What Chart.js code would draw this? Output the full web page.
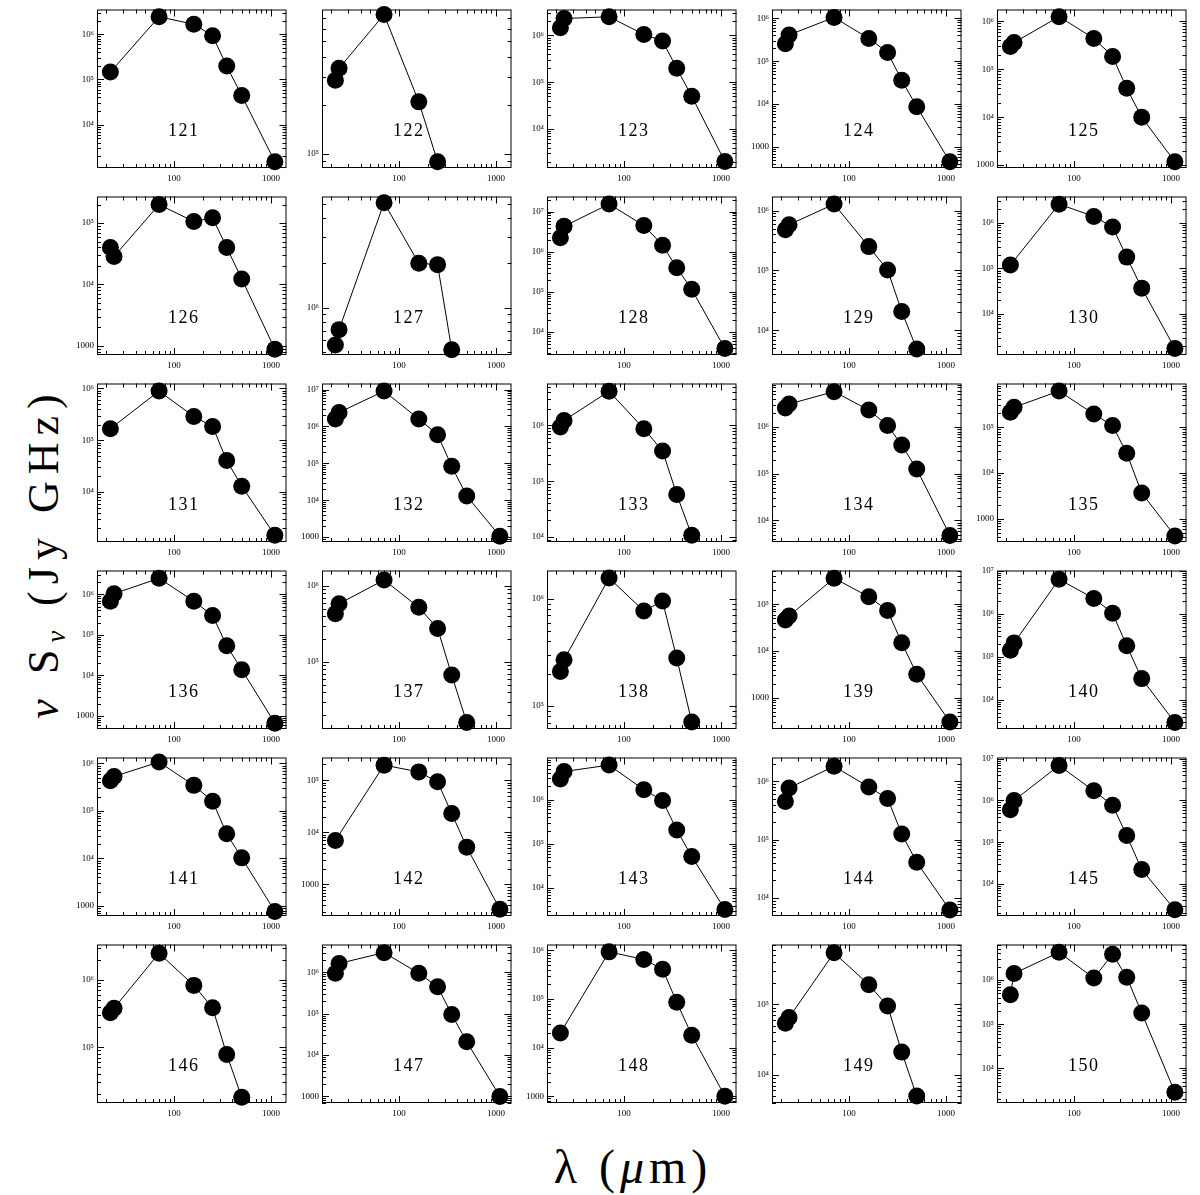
<!DOCTYPE html>
<html>
<head>
<meta charset="utf-8">
<script src="https://cdn.jsdelivr.net/npm/chart.js@4.4.0/dist/chart.umd.min.js"></script>
<style>
  body { margin: 0; background: #fff; }
  #page { position: relative; width: 1200px; height: 1195px; overflow: hidden; background: #fff; }
  #page canvas { position: absolute; }
  .title { position: absolute; font-family: 'Liberation Serif', serif; color: #000; white-space: nowrap; }
  #ytitle { left: 45px; top: 553px; font-size: 44px; letter-spacing: 7px; transform: translate(-50%, -50%) rotate(-90deg); }
  #xtitle { left: 633px; top: 1166px; font-size: 48px; letter-spacing: 5px; transform: translate(-50%, -50%); }
  sub { font-size: 60%; vertical-align: -0.25em; }
</style>
</head>
<body>
<div id="page">
  <div class="title" id="ytitle"><i>ν</i> S<sub><i>ν</i></sub> (Jy GHz)</div>
  <div class="title" id="xtitle">λ (<i>μ</i>m)</div>
</div>
<script>
// wavelengths in micron
const bands = [22, 24, 70, 160, 250, 350, 500, 1100];

// nu S_nu (Jy GHz), one entry per band, null = not measured
const sed121 = [1.46e5, null, 2.45e6, 1.67e6, 9.3e5, 1.98e5, 4.4e4, 1.5e3];
const sed122 = [2.86e5, 3.4e5, 7.35e5, 2.1e5, 8.9e4, null, null, null];
const sed123 = [1.45e6, 2.3e6, 2.5e6, 1.05e6, 7.6e5, 1.98e5, 5.0e4, 2.0e3];
const sed124 = [2.55e5, 4.1e5, 1.05e6, 3.4e5, 1.6e5, 3.6e4, 8.7e3, 453];
const sed125 = [2.97e5, 3.6e5, 1.25e6, 4.4e5, 1.85e5, 4.0e4, 1.0e4, 1.17e3];
const sed126 = [4.0e4, 2.85e4, 2.0e5, 1.06e5, 1.22e5, 4.0e4, 1.23e4, 880];
const sed127 = [5.6e5, 7.1e5, 5.1e6, 1.99e6, 1.95e6, 5.2e5, null, null];
const sed128 = [2.24e6, 4.3e6, 1.54e7, 4.5e6, 1.46e6, 4.0e5, 1.16e5, 3.9e3];
const sed129 = [4.8e5, 5.8e5, 1.28e6, 2.5e5, 1.02e5, 2.07e4, 4.9e3, null];
const sed130 = [1.19e5, null, 2.6e6, 1.4e6, 8.2e5, 1.78e5, 3.7e4, 1.74e3];
const sed131 = [1.67e5, null, 8.9e5, 2.86e5, 1.85e5, 4.05e4, 1.3e4, 1.46e3];
const sed132 = [1.6e6, 2.4e6, 9.1e6, 1.6e6, 6.0e5, 8.3e4, 1.3e4, 1.06e3];
const sed133 = [9.4e5, 1.23e6, 4.1e6, 8.75e5, 3.5e5, 5.8e4, 1.07e4, null];
const sed134 = [2.55e6, 3.1e6, 5.7e6, 2.3e6, 1.08e6, 4.1e5, 1.26e5, 4.8e3];
const sed135 = [2.1e5, 2.7e5, 6.1e5, 1.93e5, 1.08e5, 2.7e4, 3.7e3, 427];
const sed136 = [6.8e5, 1.04e6, 2.5e6, 6.8e5, 3.0e5, 5.4e4, 1.38e4, 660];
const sed137 = [4.3e5, 5.8e5, 1.19e6, 5.2e5, 2.75e5, 6.7e4, 1.6e4, null];
const sed138 = [2.1e5, 2.7e5, 1.56e6, 7.7e5, 9.5e5, 2.8e5, 7.1e4, null];
const sed139 = [4.6e4, 5.6e4, 3.6e5, 1.44e5, 7.3e4, 1.5e4, 3.2e3, 305];
const sed140 = [1.42e5, 2.1e5, 6.3e6, 2.27e6, 1.03e6, 1.8e5, 3.1e4, 2.95e3];
const sed141 = [4.3e5, 5.3e5, 1.07e6, 3.45e5, 1.6e5, 3.3e4, 1.03e4, 770];
const sed142 = [7.0e3, null, 1.94e5, 1.44e5, 9.3e4, 2.3e4, 5.2e3, 336];
const sed143 = [2.9e6, 4.3e6, 6.0e6, 1.67e6, 9.5e5, 2.05e5, 5.2e4, 3.3e3];
const sed144 = [4.5e5, 7.7e5, 1.82e6, 8.0e5, 5.1e5, 1.25e5, 4.1e4, 6.2e3];
const sed145 = [6.0e5, 1.0e6, 6.9e6, 1.7e6, 7.7e5, 1.44e5, 2.2e4, 2.4e3];
const sed146 = [3.25e5, 3.8e5, 2.5e6, 8.3e5, 3.85e5, 7.8e4, 1.8e4, null];
const sed147 = [9.5e5, 1.64e6, 3.0e6, 9.5e5, 4.5e5, 9.6e4, 2.1e4, 1.0e3];
const sed148 = [2.0e4, null, 9.3e5, 6.5e5, 4.1e5, 8.6e4, 1.8e4, 1.0e3];
const sed149 = [5.4e4, 6.5e4, 5.4e5, 1.9e5, 9.5e4, 2.1e4, 5.0e3, null];
const sed150 = [4.6e5, 1.4e6, 4.2e6, 1.1e6, 3.8e6, 1.15e6, 1.8e5, 2.9e3];

const sourceIds = [121, 122, 123, 124, 125, 126, 127, 128, 129, 130,
                   131, 132, 133, 134, 135, 136, 137, 138, 139, 140,
                   141, 142, 143, 144, 145, 146, 147, 148, 149, 150];
const seds = [sed121, sed122, sed123, sed124, sed125, sed126, sed127, sed128, sed129, sed130,
              sed131, sed132, sed133, sed134, sed135, sed136, sed137, sed138, sed139, sed140,
              sed141, sed142, sed143, sed144, sed145, sed146, sed147, sed148, sed149, sed150];

// log10 of the y axis ends for each panel
const yLogLo = [3.04, 4.91, 3.164, 2.51, 2.94, 2.85, 5.68, 3.43, 3.59, 3.097,
                3.036, 2.867, 3.91, 3.54, 2.5, 2.675, 4.118, 4.786, 2.333, 3.32,
                2.79, 2.396, 3.37, 3.69, 3.23, 4.17, 2.84, 2.86, 3.6, 3.22];
const yLogHi = [6.55, 5.898, 6.554, 6.206, 6.246, 5.433, 6.75, 7.376, 6.234, 6.584,
                6.095, 7.165, 6.753, 6.93, 5.95, 6.59, 6.2, 6.263, 5.72, 7.005,
                6.124, 5.434, 6.95, 6.41, 7.03, 6.527, 6.674, 6.12, 5.85, 6.8];

const xMin = 16, xMax = 1450;
const xTickValues = [100, 1000];

const SUP = { '-': '⁻', '0': '⁰', '1': '¹', '2': '²', '3': '³', '4': '⁴', '5': '⁵', '6': '⁶', '7': '⁷', '8': '⁸', '9': '⁹' };
function powLabel(v) {
  const e = Math.round(Math.log10(v));
  if (e === 3) return '1000';
  if (e === 2) return '100';
  return '10' + String(e).split('').map(c => SUP[c]).join('');
}

// box outline, inward major/minor ticks on all four sides, panel number
const framePlugin = {
  id: 'frame',
  beforeDatasetsDraw(chart, args, opts) {
    const ctx = chart.ctx;
    const a = chart.chartArea;
    const x = chart.scales.x, y = chart.scales.y;
    ctx.save();
    ctx.strokeStyle = '#000';
    ctx.lineWidth = 1;
    ctx.strokeRect(a.left + 0.5, a.top + 0.5, a.right - a.left - 1, a.bottom - a.top - 1);
    ctx.beginPath();
    for (let e = Math.floor(Math.log10(y.min)); e <= Math.ceil(Math.log10(y.max)); e++) {
      for (let m = 1; m < 10; m++) {
        const v = m * Math.pow(10, e);
        if (v < y.min || v > y.max) continue;
        const py = Math.round(y.getPixelForValue(v)) + 0.5;
        const len = m === 1 ? 7 : 4;
        ctx.moveTo(a.left, py); ctx.lineTo(a.left + len, py);
        ctx.moveTo(a.right, py); ctx.lineTo(a.right - len, py);
      }
    }
    for (let e = 1; e <= 3; e++) {
      for (let m = 1; m < 10; m++) {
        const v = m * Math.pow(10, e);
        if (v < x.min || v > x.max) continue;
        const px = Math.round(x.getPixelForValue(v)) + 0.5;
        const len = m === 1 ? 7 : 4;
        ctx.moveTo(px, a.bottom); ctx.lineTo(px, a.bottom - len);
        ctx.moveTo(px, a.top); ctx.lineTo(px, a.top + len);
      }
    }
    ctx.stroke();
    ctx.fillStyle = '#000';
    ctx.font = '18px "Liberation Serif", serif';
    ctx.textAlign = 'center';
    ctx.textBaseline = 'middle';
    ctx.fillText(opts.label.split('').join(String.fromCharCode(8202)), a.left + 86, a.top + 122);
    ctx.restore();
  }
};

const tickFont = { family: "'Liberation Serif', serif", size: 9 };
const page = document.getElementById('page');

sourceIds.forEach((id, i) => {
  const col = i % 5, row = Math.floor(i / 5);
  const boxLeft = 97 + col * 225, boxTop = 7 + row * 187;
  const cv = document.createElement('canvas');
  cv.width = 228; cv.height = 187;
  cv.style.left = (boxLeft - 30) + 'px';
  cv.style.top = (boxTop - 6) + 'px';
  cv.style.width = '228px'; cv.style.height = '187px';
  page.appendChild(cv);

  const pts = [];
  bands.forEach((b, k) => { if (seds[i][k] != null) pts.push({ x: b, y: seds[i][k] }); });

  new Chart(cv.getContext('2d'), {
    type: 'line',
    data: {
      datasets: [{
        data: pts,
        borderColor: '#000',
        borderWidth: 1,
        pointRadius: 8.5,
        pointBackgroundColor: '#000',
        pointBorderColor: '#000',
        pointBorderWidth: 0,
        tension: 0,
        clip: false
      }]
    },
    options: {
      responsive: false,
      animation: false,
      devicePixelRatio: 1,
      events: [],
      layout: { padding: { left: 0, top: 6, right: 3, bottom: 0 } },
      plugins: { legend: { display: false }, tooltip: { enabled: false }, frame: { label: String(id) } },
      scales: {
        x: {
          type: 'logarithmic',
          bounds: 'data',
          min: xMin, max: xMax,
          grid: { display: false, drawTicks: false },
          border: { display: false },
          afterBuildTicks: s => { s.ticks = xTickValues.map(v => ({ value: v })); },
          afterFit: s => { s.height = 20; },
          ticks: { padding: 5, maxRotation: 0, autoSkip: false, color: '#000', font: tickFont, callback: v => powLabel(v) }
        },
        y: {
          type: 'logarithmic',
          bounds: 'data',
          min: Math.pow(10, yLogLo[i]), max: Math.pow(10, yLogHi[i]),
          grid: { display: false, drawTicks: false },
          border: { display: false },
          afterBuildTicks: s => {
            const t = [];
            for (let e = Math.ceil(Math.log10(s.min) - 1e-9); e <= Math.floor(Math.log10(s.max) + 1e-9); e++) t.push({ value: Math.pow(10, e) });
            s.ticks = t;
          },
          afterFit: s => { s.width = 30; },
          ticks: { padding: 3, autoSkip: false, color: '#000', font: tickFont, callback: v => powLabel(v) }
        }
      }
    },
    plugins: [framePlugin]
  });
});
</script>
</body>
</html>
